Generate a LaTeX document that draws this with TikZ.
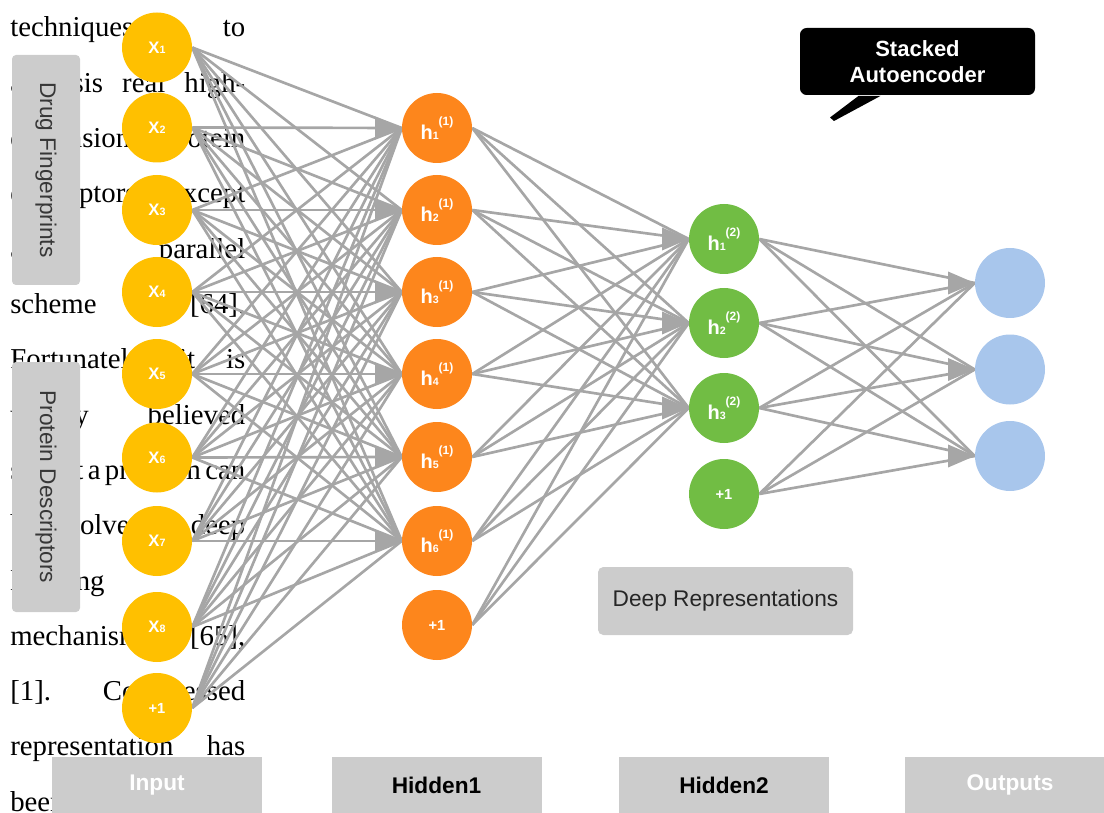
\documentclass[tikz,border=0pt]{standalone}
\usepackage{fontspec}
\setmainfont{Liberation Sans}
\newfontfamily\paperfont{Liberation Serif}
\usetikzlibrary{arrows.meta,backgrounds}

\definecolor{inputcol}{RGB}{255,192,0}
\definecolor{hidonecol}{RGB}{253,134,28}
\definecolor{hidtwocol}{RGB}{113,189,68}
\definecolor{outcol}{RGB}{168,198,236}
\definecolor{edgecol}{RGB}{166,166,166}
\definecolor{boxcol}{RGB}{204,204,204}
\definecolor{boxtext}{RGB}{55,55,55}

\newcommand{\xlab}[1]{X{\fontsize{8}{8}\selectfont #1}}
\newcommand{\hlab}[2]{h{\fontsize{8}{8}\selectfont #2}\raisebox{10.5pt}{\fontsize{9}{9}\selectfont(#1)}}

\begin{document}
\begin{tikzpicture}[x=0.75pt,y=0.75pt,yscale=-1,xscale=1,
  neuron/.style={circle, minimum size=52.5pt, inner sep=0pt, text=white},
  inneuron/.style={neuron, fill=inputcol, font=\fontsize{12.5}{12.5}\selectfont\bfseries},
  honeneuron/.style={neuron, fill=hidonecol, font=\fontsize{15}{15}\selectfont\bfseries},
  htwoneuron/.style={neuron, fill=hidtwocol, font=\fontsize{15}{15}\selectfont\bfseries},
  outneuron/.style={neuron, fill=outcol},
  link/.style={draw=edgecol, line width=2pt},
  arrowtip/.style={draw=edgecol, line width=1pt, -{Triangle[length=20pt,width=17pt]}},
  sidebox/.style={fill=boxcol, rounded corners=3pt, text=boxtext, inner sep=0pt, font=\fontsize{17}{17}\selectfont},
  layerbox/.style={fill=boxcol, minimum width=157.5pt, minimum height=42pt, inner sep=0pt, font=\fontsize{17}{17}\selectfont\bfseries},
  papertext/.style={anchor=base west, inner sep=0pt, text width=176.25pt, font=\paperfont\fontsize{21.6}{21.6}\selectfont}
]
\useasboundingbox (0,0) rectangle (1104,813);

% Input layer
\foreach \yy [count=\i] in {47.5,127.5,210,292,374,457.5,541,627}
  \node[inneuron] (in\i) at (157,\yy) {\xlab{\i}};
\node[inneuron, font=\fontsize{11}{11}\selectfont\bfseries] (in9) at (157,708) {+1};

% Hidden layer 1
\foreach \yy [count=\i] in {128,210,292,374,457,541}
  \node[honeneuron] (hA\i) at (437,\yy) {\hlab{1}{\i}};
\node[honeneuron, font=\fontsize{11}{11}\selectfont\bfseries] (hA7) at (437,625) {+1};

% Hidden layer 2
\foreach \yy [count=\i] in {239,323,408}
  \node[htwoneuron] (hB\i) at (724,\yy) {\hlab{2}{\i}};
\node[htwoneuron, font=\fontsize{11}{11}\selectfont\bfseries] (hB4) at (724,494) {+1};

% Outputs
\foreach \yy [count=\i] in {283,369.5,456}
  \node[outneuron] (out\i) at (1010,\yy) {};

\begin{scope}[on background layer]
% text of the page behind the figure
\foreach \ln [count=\i] in {{techniques\hfill to}, {analysis\hfill real\hfill high-},
    {dimensional\hfill protein}, {descriptors,\hfill except}, {a\hfill parallel},
    {scheme\hfill [64].}, {Fortunately,\hfill it\hfill is}, {widely\hfill believed},
    {so\hfill that\hfill a\hfill problem\hfill can}, {be\hfill resolved\hfill by\hfill deep},
    {learning}, {mechanisms\hfill [65],}, {[1].\hfill Compressed},
    {representation\hfill has}, {been}}
  \node[papertext] (par\i) at (10,{37+55.3*(\i-1)}) {\ln};

% connections
\foreach \i in {1,...,9}
  \foreach \j in {1,...,6}
    \draw[link] (in\i.east) -- (hA\j.west);
\foreach \i in {1,...,7}
  \foreach \j in {1,...,3}
    \draw[link] (hA\i.east) -- (hB\j.west);
\foreach \i in {1,...,4}
  \foreach \j in {1,...,3}
    \draw[link] (hB\i.east) -- (out\j.west);
\end{scope}

% arrow heads
\foreach \j in {1,...,6}
  \draw[arrowtip] ([xshift=-20pt]hA\j.west) -- (hA\j.west);
\foreach \j in {1,...,3}
  \draw[arrowtip] ([xshift=-20pt]hB\j.west) -- (hB\j.west);
\foreach \j in {1,...,3}
  \draw[arrowtip] ([xshift=-20pt]out\j.west) -- (out\j.west);

% side labels
\node[sidebox, rotate=-90, minimum width=172.5pt, minimum height=51pt] (drug) at (46,170) {Drug Fingerprints};
\node[sidebox, rotate=-90, minimum width=187.5pt, minimum height=51pt] (protein) at (46,487) {Protein Descriptors};

% deep representations
\node[sidebox, rounded corners=4pt, minimum width=191.25pt, minimum height=51pt, text={rgb,255:red,38;green,38;blue,38}] (deeprep) at (725.5,601) {Deep Representations};

% callout
\node[fill=black, rounded corners=5pt, minimum width=176.25pt, minimum height=50.25pt, inner sep=0pt,
  text=white, align=center, font=\fontsize{16.5}{19}\selectfont\bfseries] (callout) at (917.5,61.5) {Stacked\\Autoencoder};
\fill ([xshift=-44.25pt,yshift=0.5pt]callout.south) -- ([xshift=-27.75pt,yshift=0.5pt]callout.south) -- (834,121) -- (830,117.5) -- cycle;

% layer names
\node[layerbox, text=white] (inbox) at (157,785) {Input};
\node[layerbox] (h1box) at (436.5,785) {Hidden1};
\node[layerbox] (h2box) at (724,785) {Hidden2};
\node[layerbox, text=white] (outbox) at (1010,785) {Outputs};

\end{tikzpicture}
\end{document}
